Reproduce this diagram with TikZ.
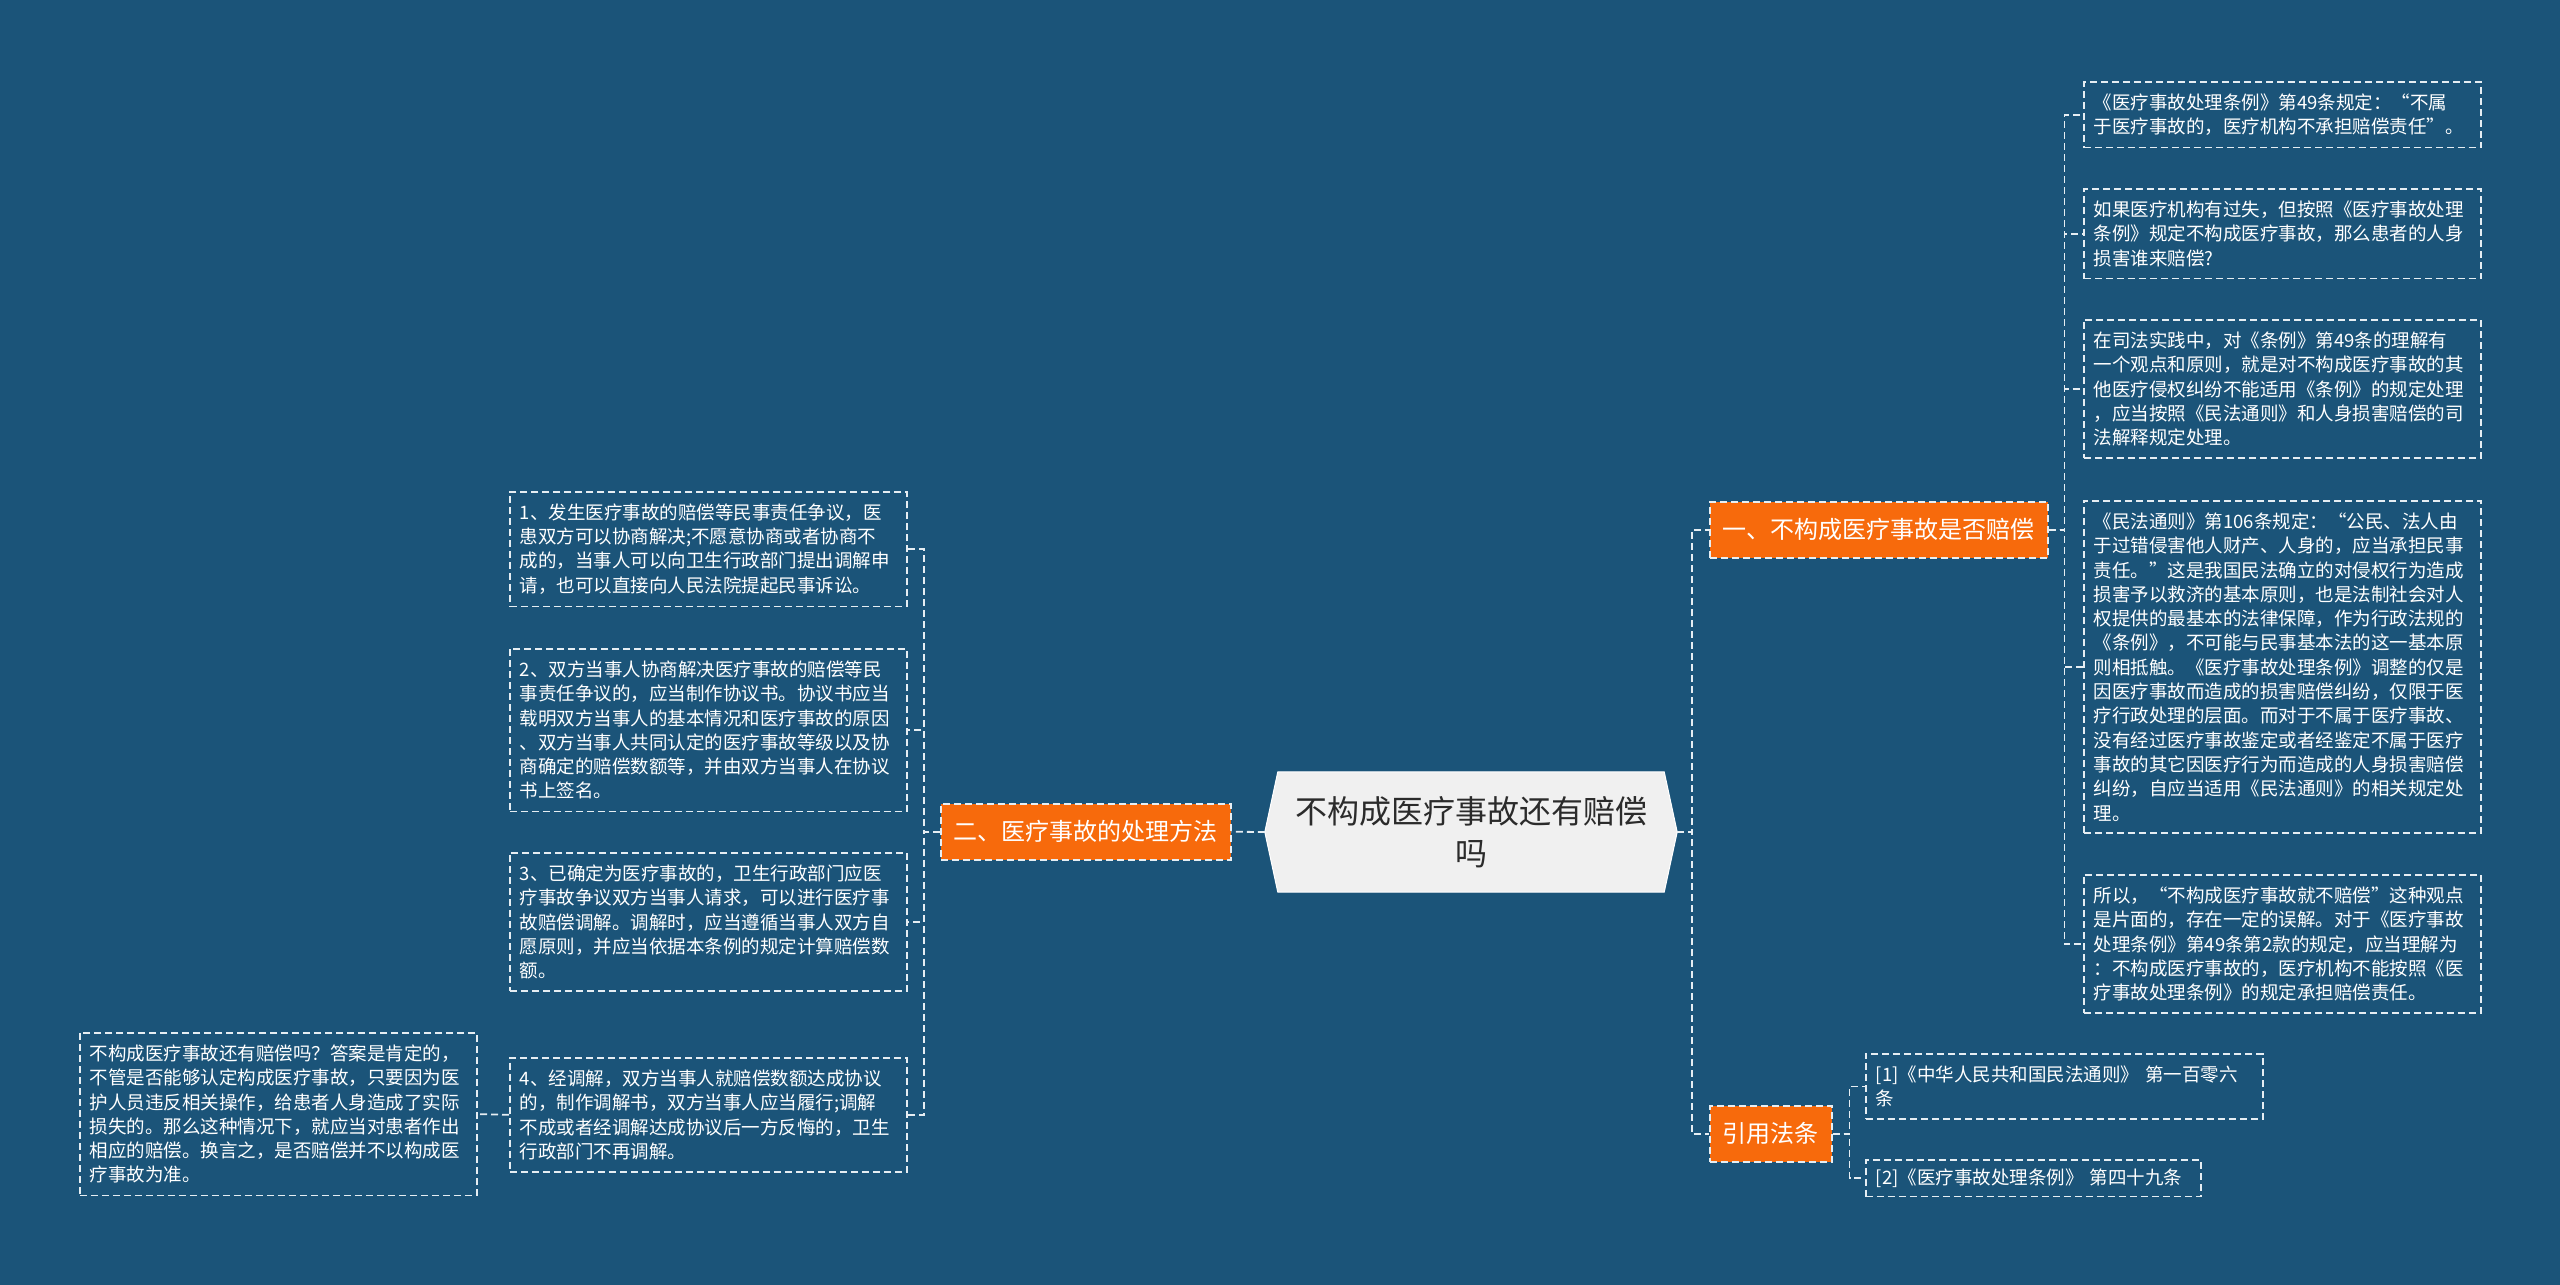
\documentclass[tikz,border=0pt]{standalone}
\usepackage{fontspec}
\setmainfont{Noto Sans CJK SC}
\usepackage{xcolor}
\usepackage{tikz}
\usetikzlibrary{positioning,backgrounds}
\definecolor{bgblue}{HTML}{1B5479}
\definecolor{topic}{HTML}{F76A0C}
\definecolor{rootfill}{HTML}{F0F0F0}
\definecolor{rootink}{HTML}{2B2B2B}
\definecolor{edge}{HTML}{E6EEF3}

\begin{document}
\begin{tikzpicture}[x=1pt, y=-1pt,
  leaf/.style={draw=edge, dash pattern=on 7pt off 4pt, line width=1.5pt,
               text=white, align=left, anchor=north west, inner xsep=10pt,
               inner ysep=12pt, text width=377pt,
               font=\fontsize{18.5}{24.3}\selectfont},
  branch/.style={fill=topic, draw=edge, dash pattern=on 7pt off 4pt,
                 line width=1.5pt, text=white, anchor=north west,
                 inner xsep=13pt, minimum height=56pt,
                 font=\fontsize{24}{28}\selectfont},
  root/.style={text=rootink, align=center, minimum width=412pt,
               minimum height=120pt, font=\fontsize{32}{42}\selectfont},
  link/.style={draw=edge, dash pattern=on 7pt off 4pt, line width=1.8pt}]

\node[root] (root) at (1471,832) {不构成医疗事故还有赔偿\\吗};

\begin{scope}[on background layer]
  \fill[bgblue] (0,0) rectangle (2560,1285);
  \filldraw[fill=rootfill, draw=white, line width=1pt]
    (root.west) -- ([xshift=13pt]root.north west) -- ([xshift=-13pt]root.north east)
    -- (root.east) -- ([xshift=-13pt]root.south east) -- ([xshift=13pt]root.south west) -- cycle;
\end{scope}

\node[branch] (b1) at (1709,501)  {一、不构成医疗事故是否赔偿};
\node[branch] (b2) at (940,803)   {二、医疗事故的处理方法};
\node[branch] (b3) at (1709,1105) {引用法条};

\node[leaf] (r1) at (2083,81)
  {《医疗事故处理条例》第49条规定：“不属\\于医疗事故的，医疗机构不承担赔偿责任”。};
\node[leaf] (r2) at (2083,188)
  {如果医疗机构有过失，但按照《医疗事故处理\\条例》规定不构成医疗事故，那么患者的人身\\损害谁来赔偿?};
\node[leaf] (r3) at (2083,319)
  {在司法实践中，对《条例》第49条的理解有\\一个观点和原则，就是对不构成医疗事故的其\\他医疗侵权纠纷不能适用《条例》的规定处理\\，应当按照《民法通则》和人身损害赔偿的司\\法解释规定处理。};
\node[leaf] (r4) at (2083,500)
  {《民法通则》第106条规定：“公民、法人由\\于过错侵害他人财产、人身的，应当承担民事\\责任。”这是我国民法确立的对侵权行为造成\\损害予以救济的基本原则，也是法制社会对人\\权提供的最基本的法律保障，作为行政法规的\\《条例》，不可能与民事基本法的这一基本原\\则相抵触。《医疗事故处理条例》调整的仅是\\因医疗事故而造成的损害赔偿纠纷，仅限于医\\疗行政处理的层面。而对于不属于医疗事故、\\没有经过医疗事故鉴定或者经鉴定不属于医疗\\事故的其它因医疗行为而造成的人身损害赔偿\\纠纷，自应当适用《民法通则》的相关规定处\\理。};
\node[leaf] (r5) at (2083,874)
  {所以，“不构成医疗事故就不赔偿”这种观点\\是片面的，存在一定的误解。对于《医疗事故\\处理条例》第49条第2款的规定，应当理解为\\：不构成医疗事故的，医疗机构不能按照《医\\疗事故处理条例》的规定承担赔偿责任。};

\node[leaf] (c1) at (1865,1053)
  {[1]《中华人民共和国民法通则》 第一百零六\\条};
\node[leaf, text width=315pt, inner ysep=9pt] (c2) at (1865,1159)
  {[2]《医疗事故处理条例》 第四十九条};

\node[leaf] (l1) at (509,491)
  {1、发生医疗事故的赔偿等民事责任争议，医\\患双方可以协商解决;不愿意协商或者协商不\\成的，当事人可以向卫生行政部门提出调解申\\请，也可以直接向人民法院提起民事诉讼。};
\node[leaf] (l2) at (509,648)
  {2、双方当事人协商解决医疗事故的赔偿等民\\事责任争议的，应当制作协议书。协议书应当\\载明双方当事人的基本情况和医疗事故的原因\\、双方当事人共同认定的医疗事故等级以及协\\商确定的赔偿数额等，并由双方当事人在协议\\书上签名。};
\node[leaf] (l3) at (509,852)
  {3、已确定为医疗事故的，卫生行政部门应医\\疗事故争议双方当事人请求，可以进行医疗事\\故赔偿调解。调解时，应当遵循当事人双方自\\愿原则，并应当依据本条例的规定计算赔偿数\\额。};
\node[leaf] (l4) at (509,1057)
  {4、经调解，双方当事人就赔偿数额达成协议\\的，制作调解书，双方当事人应当履行;调解\\不成或者经调解达成协议后一方反悔的，卫生\\行政部门不再调解。};
\node[leaf] (ll) at (79,1032)
  {不构成医疗事故还有赔偿吗？答案是肯定的，\\不管是否能够认定构成医疗事故，只要因为医\\护人员违反相关操作，给患者人身造成了实际\\损失的。那么这种情况下，就应当对患者作出\\相应的赔偿。换言之，是否赔偿并不以构成医\\疗事故为准。};

\draw[link] (root.west) -- (b2.east);
\foreach \t in {b1,b3}
  \draw[link] (root.east) -- ++(15,0) |- (\t.west);
\foreach \t in {r1,r2,r3,r4,r5}
  \draw[link] (b1.east) -- ++(16,0) |- (\t.west);
\foreach \t in {c1,c2}
  \draw[link] (b3.east) -- ++(17,0) |- (\t.west);
\foreach \t in {l1,l2,l3,l4}
  \draw[link] (b2.west) -- ++(-16,0) |- (\t.east);
\draw[link] (l4.west) -- (ll.east);

\end{tikzpicture}
\end{document}
